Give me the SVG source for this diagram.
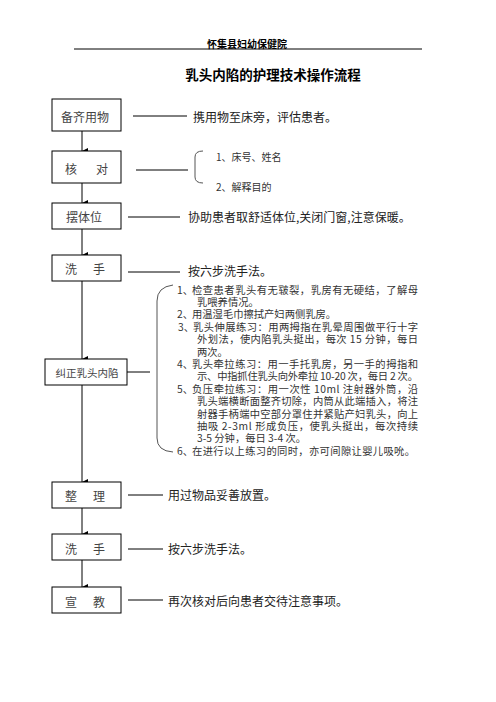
<svg xmlns="http://www.w3.org/2000/svg" width="496" height="702" viewBox="0 0 496 702">
<style>
text{font-family:"Noto Sans CJK SC","Liberation Sans",sans-serif;dominant-baseline:central;fill:#222}
.hd{font-size:10px;font-weight:bold;fill:#000}
.tt{font-size:13.5px;font-weight:bold;fill:#000}
.bx{fill:#fff;stroke:#000;stroke-width:1}
.bl{font-size:12px;fill:#444;text-anchor:middle}
.ds{font-size:12px;fill:#222}
.it{font-size:10.3px;fill:#333}
.sm{font-size:10px;fill:#333}
.ln{stroke:#000;stroke-width:1;fill:none}
.br{stroke:#555;stroke-width:1;fill:none}
</style>
<defs>
<marker id="ah" markerUnits="userSpaceOnUse" markerWidth="6" markerHeight="6" viewBox="0 0 6 6" refX="3" refY="6" orient="auto-start-reverse">
<path d="M0,0 L6,0 L3,6 Z" fill="#000"/>
</marker>
</defs>
<g id="header">
<text class="hd" x="247" y="43" text-anchor="middle">怀集县妇幼保健院</text>
<line x1="74" y1="49" x2="422" y2="49" stroke="#000" stroke-width="1"/>
<text class="tt" x="273" y="74" text-anchor="middle">乳头内陷的护理技术操作流程</text>
</g>
<g id="connectors">
<line class="ln" x1="82" y1="131" x2="82" y2="151" marker-end="url(#ah)"/>
<line class="ln" x1="82" y1="183" x2="82" y2="203" marker-end="url(#ah)"/>
<line class="ln" x1="82" y1="229" x2="82" y2="255" marker-end="url(#ah)"/>
<line class="ln" x1="82" y1="281" x2="82" y2="359" marker-end="url(#ah)"/>
<line class="ln" x1="82" y1="385" x2="82" y2="482" marker-end="url(#ah)"/>
<line class="ln" x1="82" y1="508" x2="82" y2="534" marker-end="url(#ah)"/>
<line class="ln" x1="82" y1="560" x2="82" y2="587" marker-end="url(#ah)"/>
<line class="ln" x1="133" y1="116" x2="187" y2="116"/>
<line class="ln" x1="136" y1="170" x2="188" y2="170"/>
<line class="ln" x1="128" y1="217" x2="180" y2="217"/>
<line class="ln" x1="128" y1="272" x2="180" y2="272"/>
<line class="ln" x1="127" y1="372" x2="150" y2="372"/>
<line class="ln" x1="128" y1="495" x2="163" y2="495"/>
<line class="ln" x1="128" y1="549" x2="163" y2="549"/>
<line class="ln" x1="128" y1="600" x2="163" y2="600"/>
<path class="br" d="M203,151 Q195,151 195,157 L195,177 Q195,183 203,183"/>
<path class="br" d="M173,285 Q157,287 157,301 L157,438 Q157,451 173,452"/>
</g>
<g id="n1">
<rect class="bx" x="52" y="99" width="69" height="32"/>
<text class="bl" x="85" y="116">备齐用物</text>
<text class="ds" x="193" y="116">携用物至床旁，评估患者。</text>
</g>
<g id="n2">
<rect class="bx" x="52" y="151" width="69" height="32"/>
<text class="bl" x="71" y="168">核</text>
<text class="bl" x="102" y="168">对</text>
<text class="sm" x="216" y="156">1、床号、姓名</text>
<text class="sm" x="216" y="186">2、解释目的</text>
</g>
<g id="n3">
<rect class="bx" x="52" y="203" width="69" height="26"/>
<text class="bl" x="84" y="216">摆体位</text>
<text class="ds" x="188" y="216">协助患者取舒适体位,关闭门窗,注意保暖。</text>
</g>
<g id="n4">
<rect class="bx" x="52" y="255" width="69" height="26"/>
<text class="bl" x="71" y="268">洗</text>
<text class="bl" x="99" y="268">手</text>
<text class="ds" x="188" y="270">按六步洗手法。</text>
</g>
<g id="n5">
<rect class="bx" x="45" y="359" width="82" height="26"/>
<text class="bl" x="87" y="372" style="font-size:10.5px">纠正乳头内陷</text>
<text class="it" x="177" y="289">1、</text>
<text class="it" x="192" y="289" textLength="226" lengthAdjust="spacing">检查患者乳头有无皲裂，乳房有无硬结，了解母</text>
<text class="it" x="197" y="301.4">乳喂养情况。</text>
<text class="it" x="177" y="313.8">2、</text>
<text class="it" x="192" y="313.8">用温湿毛巾擦拭产妇两侧乳房。</text>
<text class="it" x="178" y="326.2">3、</text>
<text class="it" x="193" y="326.2" textLength="225" lengthAdjust="spacing">乳头伸展练习：用两拇指在乳晕周围做平行十字</text>
<text class="it" x="197" y="338.6" textLength="221" lengthAdjust="spacing">外划法，使内陷乳头挺出，每次 15 分钟，每日</text>
<text class="it" x="197" y="351">两次。</text>
<text class="it" x="177" y="363.4">4、</text>
<text class="it" x="192" y="363.4" textLength="226" lengthAdjust="spacing">乳头牵拉练习：用一手托乳房，另一手的拇指和</text>
<text class="it" x="197" y="375.8" textLength="221" lengthAdjust="spacing">示、中指抓住乳头向外牵拉 10-20 次，每日 2 次。</text>
<text class="it" x="177" y="388.2">5、</text>
<text class="it" x="192" y="388.2" textLength="226" lengthAdjust="spacing">负压牵拉练习：用一次性 10ml 注射器外筒，沿</text>
<text class="it" x="197" y="400.6" textLength="221" lengthAdjust="spacing">乳头端横断面整齐切除，内筒从此端插入，将注</text>
<text class="it" x="197" y="413" textLength="221" lengthAdjust="spacing">射器手柄端中空部分罩住并紧贴产妇乳头，向上</text>
<text class="it" x="197" y="425.4" textLength="221" lengthAdjust="spacing">抽吸 2-3ml 形成负压，使乳头挺出，每次持续</text>
<text class="it" x="197" y="437.8">3-5 分钟，每日 3-4 次。</text>
<text class="it" x="177" y="450.2">6、</text>
<text class="it" x="192" y="450.2" textLength="223" lengthAdjust="spacing">在进行以上练习的同时，亦可间隙让婴儿吸吮。</text>
</g>
<g id="n6">
<rect class="bx" x="52" y="482" width="69" height="26"/>
<text class="bl" x="71" y="495">整</text>
<text class="bl" x="99" y="495">理</text>
<text class="ds" x="168" y="494">用过物品妥善放置。</text>
</g>
<g id="n7">
<rect class="bx" x="52" y="534" width="69" height="26"/>
<text class="bl" x="71" y="548">洗</text>
<text class="bl" x="99" y="548">手</text>
<text class="ds" x="168" y="548">按六步洗手法。</text>
</g>
<g id="n8">
<rect class="bx" x="52" y="587" width="69" height="26"/>
<text class="bl" x="71" y="601">宣</text>
<text class="bl" x="99" y="601">教</text>
<text class="ds" x="168" y="600">再次核对后向患者交待注意事项。</text>
</g>
</svg>
